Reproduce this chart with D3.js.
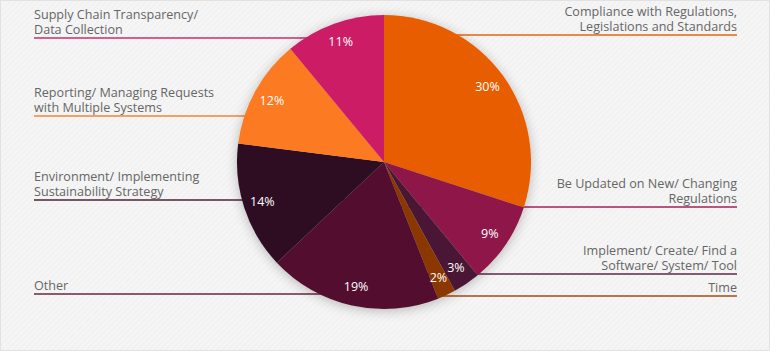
<!DOCTYPE html>
<html>
<head>
<meta charset="utf-8">
<script src="https://cdn.jsdelivr.net/npm/d3@7"></script>
<style>
  html, body { margin: 0; padding: 0; background: #f4f4f4; }
  svg { display: block; }
</style>
</head>
<body>
<div id="chart"></div>
<script>
// slices, clockwise from 12 o'clock
const categories = [
  'Compliance with Regulations,|Legislations and Standards',
  'Be Updated on New/ Changing|Regulations',
  'Implement/ Create/ Find a|Software/ System/ Tool',
  'Time',
  'Other',
  'Environment/ Implementing|Sustainability Strategy',
  'Reporting/ Managing Requests|with Multiple Systems',
  'Supply Chain Transparency/|Data Collection'
];
const shares = [30, 9, 3, 2, 19, 14, 12, 11];
const sliceColors = ['#e85d00', '#8e1748', '#4a1836', '#8a3800', '#530d2d', '#2e0d22', '#fb7a22', '#cb1e65'];
const lineColors = ['#e8650a', '#a42058', '#5a2a48', '#a54a12', '#6b2545', '#4e2038', '#f88232', '#cf2a6c'];

// layout of the legend rows (underline y, side)
const underlineY = [35, 207, 274, 296, 294, 200, 116, 38];
const side = ['right', 'right', 'right', 'right', 'left', 'left', 'left', 'left'];

const width = 770, height = 351;
const cx = 384, cy = 162, radius = 147;
const leftX = 34, rightX = 737;

const svg = d3.select('#chart').append('svg')
  .attr('width', width)
  .attr('height', height);

const defs = svg.append('defs');
const pat = defs.append('pattern')
  .attr('id', 'stripes')
  .attr('width', 4).attr('height', 4)
  .attr('patternUnits', 'userSpaceOnUse')
  .attr('patternTransform', 'rotate(45)');
pat.append('rect').attr('width', 4).attr('height', 4).attr('fill', '#f5f5f5');
pat.append('line').attr('x1', 0).attr('y1', 0).attr('x2', 0).attr('y2', 4)
  .attr('stroke', '#eeeeee').attr('stroke-width', 1.5);

const shadow = defs.append('filter').attr('id', 'shadow')
  .attr('x', '-20%').attr('y', '-20%').attr('width', '140%').attr('height', '140%');
shadow.append('feGaussianBlur').attr('in', 'SourceAlpha').attr('stdDeviation', 6);
shadow.append('feOffset').attr('dx', 0).attr('dy', 2).attr('result', 'b');
shadow.append('feComponentTransfer').append('feFuncA').attr('type', 'linear').attr('slope', 0.25);
const merge = shadow.append('feMerge');
merge.append('feMergeNode');
merge.append('feMergeNode').attr('in', 'SourceGraphic');

svg.append('rect').attr('width', width).attr('height', height).attr('fill', 'url(#stripes)');
svg.append('rect').attr('x', 0.5).attr('y', 0.5).attr('width', width - 1).attr('height', height - 1)
  .attr('fill', 'none').attr('stroke', '#e2e2e2');

const rows = categories.map((c, i) => ({
  lines: c.split('|'), y: underlineY[i], side: side[i], color: lineColors[i]
}));

// underlines (run under the pie)
svg.append('g').selectAll('line')
  .data(rows)
  .join('line')
  .attr('x1', d => d.side === 'left' ? leftX : cx)
  .attr('x2', d => d.side === 'left' ? cx : rightX)
  .attr('y1', d => d.y)
  .attr('y2', d => d.y)
  .attr('stroke', d => d.color)
  .attr('stroke-width', 1.6);

// legend text
const txt = svg.append('g').selectAll('text')
  .data(rows)
  .join('text')
  .attr('x', d => d.side === 'left' ? leftX : rightX)
  .attr('text-anchor', d => d.side === 'left' ? 'start' : 'end')
  .attr('font-family', '"Open Sans", sans-serif')
  .attr('font-size', '12.6px')
  .attr('fill', '#666666');
txt.selectAll('tspan')
  .data(d => d.lines.map((l, k) => ({ l, k, n: d.lines.length, y: d.y })))
  .join('tspan')
  .attr('x', function() { return d3.select(this.parentNode).attr('x'); })
  .attr('y', d => d.y - 4 - (d.n - 1 - d.k) * 15.5)
  .text(d => d.l);

// pie
const pie = d3.pie().sort(null).value(d => d)(shares);
const arc = d3.arc().innerRadius(0).outerRadius(radius);
const labelArc = d3.arc().innerRadius(radius * 0.87).outerRadius(radius * 0.87);

const g = svg.append('g').attr('transform', `translate(${cx},${cy})`);
g.append('g').attr('filter', 'url(#shadow)')
  .selectAll('path')
  .data(pie)
  .join('path')
  .attr('d', arc)
  .attr('fill', (d, i) => sliceColors[i]);

g.append('g').selectAll('text')
  .data(pie)
  .join('text')
  .attr('transform', d => `translate(${labelArc.centroid(d)})`)
  .attr('dy', '0.35em')
  .attr('text-anchor', 'middle')
  .attr('font-family', '"Open Sans", sans-serif')
  .attr('font-size', '12.5px')
  .attr('fill', '#ffffff')
  .text(d => d.data + '%');
</script>
</body>
</html>
